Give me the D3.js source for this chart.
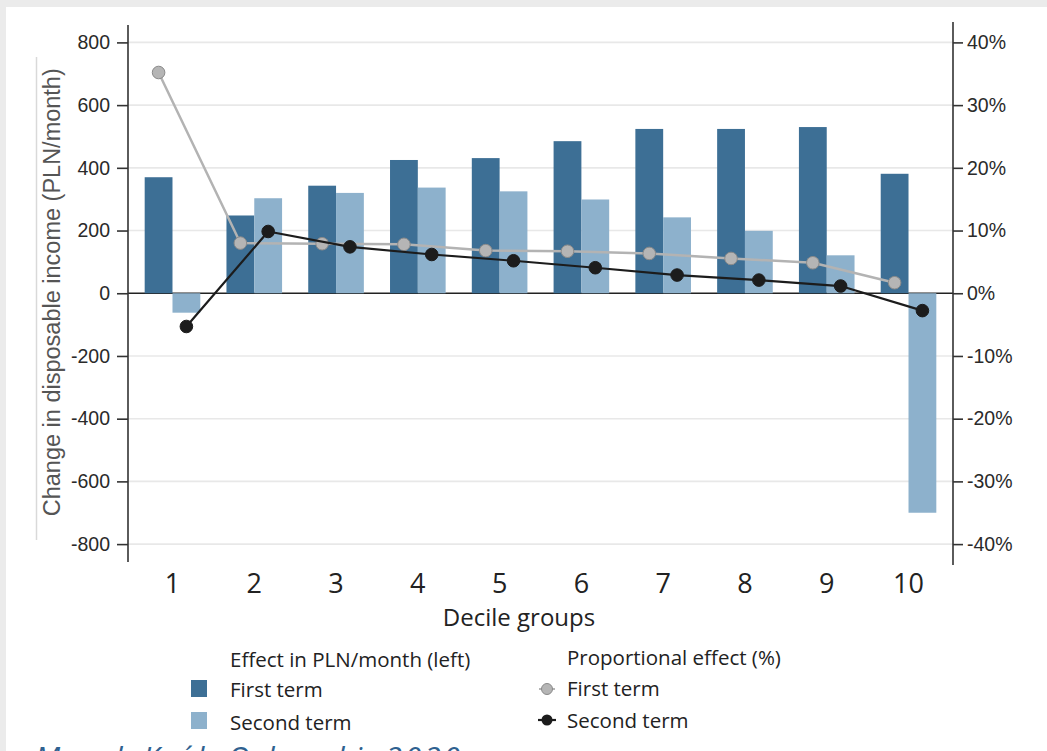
<!DOCTYPE html>
<html>
<head>
<meta charset="utf-8">
<script src="https://cdn.jsdelivr.net/npm/d3@7"></script>
<style>
  html, body { margin: 0; padding: 0; background: #ebebeb; }
  svg { display: block; }
</style>
</head>
<body>
<svg id="chart" width="1047" height="751"></svg>
<script>
// ---- data ----
const deciles = ["1","2","3","4","5","6","7","8","9","10"];
const firstTermPLN  = [370, 248, 343, 425, 431, 485, 524, 524, 530, 381];
const secondTermPLN = [-62, 303, 320, 337, 325, 299, 242, 199, 121, -700];
const firstTermPct  = [35.2, 8.0, 7.9, 7.8, 6.8, 6.7, 6.35, 5.55, 4.86, 1.68];
const secondTermPct = [-5.3, 9.85, 7.4, 6.18, 5.18, 4.07, 2.9, 2.1, 1.15, -2.77];
const leftTicks  = [-800, -600, -400, -200, 0, 200, 400, 600, 800];
const rightTicks = [-40, -30, -20, -10, 0, 10, 20, 30, 40];
const seriesKeys = ["first", "second"];

const svg = d3.select("#chart");
const W = 1047, H = 751;

// white panel
svg.append("rect").attr("x", 6).attr("y", 7).attr("width", W - 6).attr("height", H - 7).attr("fill", "#ffffff");

const plotL = 128, plotR = 953;
const yL = d3.scaleLinear().domain([-800, 800]).range([544.1, 42.4]);
const yR = d3.scaleLinear().domain([-40, 40]).range([544.1, 42.4]);
const x = d3.scaleBand().domain(deciles).range([plotL, plotR]).paddingInner(0.32).paddingOuter(0.204);
const xs = d3.scaleBand().domain(seriesKeys).range([0, x.bandwidth()]);

const colFirst = "#3d6f95", colSecond = "#8db1cc";

// gridlines
svg.append("g").selectAll("line").data(leftTicks.filter(d => d !== 0)).join("line")
  .attr("x1", plotL).attr("x2", plotR)
  .attr("y1", d => yL(d)).attr("y2", d => yL(d))
  .attr("stroke", "#e8e8e8").attr("stroke-width", 1.6);

// zero line
svg.append("line").attr("x1", plotL).attr("x2", plotR).attr("y1", yL(0)).attr("y2", yL(0))
  .attr("stroke", "#222").attr("stroke-width", 1.5);

// bars
const rows = deciles.map((d, i) => ({ d, first: firstTermPLN[i], second: secondTermPLN[i] }));
const gBars = svg.append("g");
seriesKeys.forEach(k => {
  gBars.selectAll("rect." + k).data(rows).join("rect").attr("class", k)
    .attr("x", r => x(r.d) + xs(k))
    .attr("width", xs.bandwidth())
    .attr("y", r => yL(Math.max(0, r[k])))
    .attr("height", r => Math.abs(yL(r[k]) - yL(0)))
    .attr("fill", k === "first" ? colFirst : colSecond);
});

// lines
const line = d3.line();
function drawSeries(vals, key, stroke, sw, fill, mstroke) {
  const pts = vals.map((v, i) => [x(deciles[i]) + xs(key) + xs.bandwidth() / 2, yR(v)]);
  svg.append("path").attr("d", line(pts)).attr("fill", "none")
    .attr("stroke", stroke).attr("stroke-width", sw).attr("stroke-linejoin", "round");
  svg.append("g").selectAll("circle").data(pts).join("circle")
    .attr("cx", p => p[0]).attr("cy", p => p[1]).attr("r", 6.3)
    .attr("fill", fill).attr("stroke", mstroke).attr("stroke-width", 1);
}
drawSeries(firstTermPct, "first", "#b3b3b3", 2.5, "#b5b5b5", "#8a8a8a");
drawSeries(secondTermPct, "second", "#1c1c1c", 2.2, "#1c1c1c", "#1c1c1c");

const hyphen = s => String(s).replace("\u2212", "-");

// left axis
const axL = svg.append("g").attr("transform", `translate(${plotL},0)`)
  .call(d3.axisLeft(yL).tickValues(leftTicks).tickSize(11).tickPadding(7).tickFormat(d => hyphen(d)));
axL.select(".domain").attr("d", `M0,25V562`).attr("stroke", "#333").attr("stroke-width", 1.6);
axL.selectAll(".tick line").attr("stroke", "#333").attr("stroke-width", 1.6);
axL.selectAll(".tick text").attr("font-family", "'Liberation Sans', Arial, sans-serif")
  .attr("font-size", 19.5).attr("fill", "#2a2a2a");

// right axis
const axR = svg.append("g").attr("transform", `translate(${plotR},0)`)
  .call(d3.axisRight(yR).tickValues(rightTicks).tickSize(10).tickPadding(4).tickFormat(d => hyphen(d) + "%"));
axR.select(".domain").attr("d", `M0,22V565`).attr("stroke", "#333").attr("stroke-width", 1.6);
axR.selectAll(".tick line").attr("stroke", "#333").attr("stroke-width", 1.6);
axR.selectAll(".tick text").attr("font-family", "'Liberation Sans', Arial, sans-serif")
  .attr("font-size", 19.5).attr("fill", "#2a2a2a");

// faint vertical rule left of title
svg.append("line").attr("x1", 36.5).attr("x2", 36.5).attr("y1", 57).attr("y2", 540)
  .attr("stroke", "#d9d9d9").attr("stroke-width", 1.5);

// y title
svg.append("text").attr("transform", `translate(60,${yL(0)-1}) rotate(-90)`)
  .attr("text-anchor", "middle").attr("font-family", "'Liberation Sans', Arial, sans-serif")
  .attr("font-size", 23.5).attr("fill", "#555").text("Change in disposable income (PLN/month)");

// x tick labels
svg.append("g").selectAll("text").data(deciles).join("text")
  .attr("x", d => x(d) + x.bandwidth() / 2).attr("y", 593)
  .attr("text-anchor", "middle").attr("font-family", "'Open Sans', sans-serif")
  .attr("font-size", 27).attr("fill", "#222").text(d => d);

// x title
const sansCal = "'Open Sans', sans-serif";
svg.append("text").attr("x", 519).attr("y", 626).attr("text-anchor", "middle")
  .attr("font-family", sansCal).attr("font-size", 24).attr("fill", "#222").text("Decile groups");

// legend
const lg = svg.append("g").attr("font-family", sansCal).attr("font-size", 20.5).attr("fill", "#222");
lg.append("text").attr("x", 230).attr("y", 667).text("Effect in PLN/month (left)");
lg.append("rect").attr("x", 191).attr("y", 680).attr("width", 16).attr("height", 17).attr("fill", colFirst);
lg.append("text").attr("x", 230).attr("y", 697).text("First term");
lg.append("rect").attr("x", 191).attr("y", 712).attr("width", 16).attr("height", 17).attr("fill", colSecond);
lg.append("text").attr("x", 230).attr("y", 730).text("Second term");

lg.append("text").attr("x", 567).attr("y", 665).text("Proportional effect (%)");
lg.append("line").attr("x1", 539).attr("x2", 555).attr("y1", 689).attr("y2", 689).attr("stroke", "#b3b3b3").attr("stroke-width", 2);
lg.append("circle").attr("cx", 547).attr("cy", 689).attr("r", 5.5).attr("fill", "#b5b5b5").attr("stroke", "#8a8a8a");
lg.append("text").attr("x", 567).attr("y", 696).text("First term");
lg.append("line").attr("x1", 538).attr("x2", 556).attr("y1", 720).attr("y2", 720).attr("stroke", "#1c1c1c").attr("stroke-width", 2.2);
lg.append("circle").attr("cx", 547).attr("cy", 720).attr("r", 5.5).attr("fill", "#1c1c1c");
lg.append("text").attr("x", 567).attr("y", 728).text("Second term");

// source text (clipped at bottom edge, as in the reference)
svg.append("text").attr("x", 35).attr("y", 768).attr("font-family", sansCal)
  .attr("font-style", "italic").attr("font-size", 30).attr("fill", "#2f6190")
  .attr("textLength", 425).attr("lengthAdjust", "spacing")
  .text("Marek Król, Orłowski, 2020");
</script>
</body>
</html>
